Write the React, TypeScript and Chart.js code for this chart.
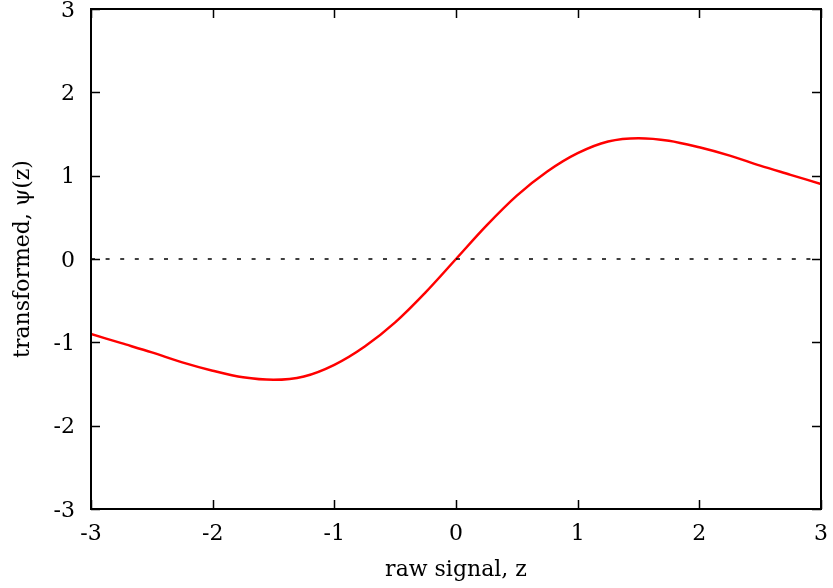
import React, { useEffect, useRef } from 'react';
import { Chart, registerables } from 'chart.js';

Chart.register(...registerables);

// raw signal z (x) and transformed psi(z) (y)
const zValues = [-3, -2.75, -2.5, -2.25, -2, -1.75, -1.5, -1.25, -1, -0.75, -0.5, -0.25, 0, 0.25, 0.5, 0.75, 1, 1.25, 1.5, 1.75, 2, 2.25, 2.5, 2.75, 3];
const psiValues = [-0.9, -1.01, -1.12, -1.24, -1.34, -1.42, -1.45, -1.41, -1.27, -1.05, -0.76, -0.4, 0, 0.4, 0.76, 1.05, 1.27, 1.41, 1.45, 1.42, 1.34, 1.24, 1.12, 1.01, 0.9];
const zeroLineX = [-3, 3];
const zeroLineY = [0, 0];
const xTickValues = [-3, -2, -1, 0, 1, 2, 3];
const yTickValues = [-3, -2, -1, 0, 1, 2, 3];
const xTitle = 'raw signal, z';
const yTitle = 'transformed, ψ(z)';

const FONT = '"DejaVu Serif", serif';
const FONT_SIZE = 22;

const framePlugin = {
  id: 'gnuFrame',
  afterDatasetsDraw(chart: any) {
    const { ctx, chartArea, scales } = chart;
    const { left, right, top, bottom } = chartArea;
    ctx.save();
    ctx.strokeStyle = '#000';
    ctx.lineWidth = 1.5;
    const tl = 9;
    ctx.beginPath();
    for (const v of xTickValues) {
      const px = Math.round(scales.x.getPixelForValue(v)) + 0.5;
      ctx.moveTo(px, bottom);
      ctx.lineTo(px, bottom - tl);
      ctx.moveTo(px, top);
      ctx.lineTo(px, top + tl);
    }
    for (const v of yTickValues) {
      const py = Math.round(scales.y.getPixelForValue(v)) + 0.5;
      ctx.moveTo(left, py);
      ctx.lineTo(left + tl, py);
      ctx.moveTo(right, py);
      ctx.lineTo(right - tl, py);
    }
    ctx.stroke();
    ctx.lineWidth = 2;
    ctx.strokeRect(left, top, right - left, bottom - top);
    ctx.restore();
  },
};

const zeroPad = (axis: any) => {
  axis.paddingTop = 0;
  axis.paddingBottom = 0;
  axis.paddingLeft = 0;
  axis.paddingRight = 0;
};

export default function App() {
  const ref = useRef<HTMLCanvasElement | null>(null);

  useEffect(() => {
    document.body.style.margin = '0';
    const canvas = ref.current;
    if (!canvas) return;
    const curve = zValues.map((z, i) => ({ x: z, y: psiValues[i] }));
    const zero = zeroLineX.map((z, i) => ({ x: z, y: zeroLineY[i] }));
    const chart = new Chart(canvas, {
      type: 'line',
      data: {
        datasets: [
          {
            data: zero,
            borderColor: '#000',
            borderWidth: 1.3,
            borderDash: [4, 10.6],
            pointRadius: 0,
            fill: false,
          },
          {
            data: curve,
            borderColor: '#ff0000',
            borderWidth: 2.5,
            pointRadius: 0,
            cubicInterpolationMode: 'monotone',
            fill: false,
          },
        ],
      },
      options: {
        animation: false,
        responsive: false,
        devicePixelRatio: 1,
        layout: { padding: { top: 9, right: 12, left: 0, bottom: 0 } },
        plugins: {
          legend: { display: false },
          tooltip: { enabled: false },
        },
        scales: {
          x: {
            type: 'linear',
            min: -3,
            max: 3,
            grid: { display: false, drawTicks: false },
            border: { display: false },
            afterBuildTicks: (axis: any) => {
              axis.ticks = xTickValues.map((v) => ({ value: v }));
            },
            afterFit: (axis: any) => {
              axis.height = 79;
              zeroPad(axis);
            },
            ticks: {
              color: '#000',
              padding: 12,
              maxRotation: 0,
              font: { family: FONT, size: FONT_SIZE },
              callback: (v: any) => String(v),
            },
            title: {
              display: true,
              text: xTitle,
              color: '#000',
              font: { family: FONT, size: FONT_SIZE },
              padding: { top: 0, bottom: 5 },
            },
          },
          y: {
            type: 'linear',
            min: -3,
            max: 3,
            grid: { display: false, drawTicks: false },
            border: { display: false },
            afterBuildTicks: (axis: any) => {
              axis.ticks = yTickValues.map((v) => ({ value: v }));
            },
            afterFit: (axis: any) => {
              axis.width = 91;
              zeroPad(axis);
            },
            ticks: {
              color: '#000',
              padding: 16,
              labelOffset: 2,
              font: { family: FONT, size: FONT_SIZE },
              callback: (v: any) => String(v),
            },
            title: {
              display: true,
              text: yTitle,
              color: '#000',
              font: { family: FONT, size: FONT_SIZE },
              padding: { top: 10, bottom: 0 },
            },
          },
        },
      },
      plugins: [framePlugin],
    } as any);
    return () => chart.destroy();
  }, []);

  return (
    <div style={{ width: 833, height: 588 }}>
      <canvas ref={ref} width={833} height={588} style={{ display: 'block' }} />
    </div>
  );
}
